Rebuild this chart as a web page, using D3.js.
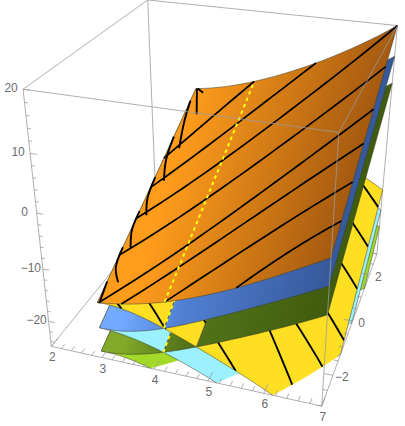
<!DOCTYPE html>
<html><head><meta charset="utf-8">
<script src="https://cdn.jsdelivr.net/npm/d3@7/dist/d3.min.js"></script>
<style>html,body{margin:0;padding:0;background:#fff}svg{display:block}text{font-family:"Liberation Sans",Arial,sans-serif;font-size:12px;fill:#6b6b6b}</style>
</head><body><svg id="chart" width="405" height="426"></svg>
<script>
// ---- data ----
const xTickValues=[2,3,4,5,6,7];
const yTickValues=[-2,0,2];
const zTickValues=[-20,-10,0,10,20];
const xDomain=[2,7], yDomain=[-3,3], zDomain=[-25,20];
const xGrid=[3,4,5,6,7];
const yGrid=[-3,0,3];
const orangeZ=[[-14.3,-12.4,-8.9,-4.2,1.2],[-5.15,-3.15,0.35,5,10.6],[4,6.1,9.6,14.2,20]];
const blueZ=[[-19.1,-17.4,-13.3,-8.5,-3.4],[-10.25,-8.25,-4.55,0.15,5.6],[-1.4,0.7,4.2,8.8,14.6]];
const greenZ=[[-23.7,-21.9,-18,-13.4,-8.3],[-15,-13,-9.35,-4.75,0.7],[-6.3,-4.2,-0.7,3.9,9.7]];
const yellowZ=[[-14.3,-15.9,-19.7,-24.2,-30.5],[-5.15,-7.2,-10.85,-15.2,-20.85],[4,1.6,-2,-6.2,-11.2]];
const cyanZ=[[-19.1,-20.7,-24.3,-29,-34],[-10.25,-12.2,-15.8,-20,-24.7],[-1.4,-3.5,-7.3,-11,-15.4]];
const limeZ=[[-23.7,-25.2,-29,-34,-41],[-15,-16.6,-20.5,-24.9,-30],[-6.3,-8,-12,-15.8,-19]];
const orangeColors=["#ff9c1c","#a55a10"], blueColors=["#72aaff","#507fd2","#35589a"], greenColors=["#82aa28","#54751a","#3f5c0e"];
const yellowColor="#ffdf22", cyanColor="#9bf1ff", limeColor="#a3da28";
// mesh lines on the top sheet (sheet coordinates)
const orangeMeshStartX=[3,3,3,3,3.02,3.45,4.25,5.5];
const orangeMeshStartY=[0.8,-0.05,-0.9,-1.85,-3,-3,-3,-3];
const orangeMeshEndX=[4.25,5.5,7,7,7,7,7,7];
const orangeMeshEndY=[3,3,3,1.75,0.55,-0.35,-1.3,-2.2];
const orangeMeshBow=[0.1,0.2,0.3,0.3,0.3,0.3,0.2,0.1];
// short arcs near the left edge: [x,y] triples
const orangeArcs=[[[3.02,3],[3.27,2.15]],[[3.04,3],[3.2,2.85]],[[3,2.6],[3.07,1.95],[3.22,1.1]],[[3,1.45],[3.06,0.75],[3.21,0.15]],[[3,0.25],[3.04,-0.35],[3.17,-0.8]],[[3,-0.7],[3.02,-1.2],[3.15,-1.65]],[[3,-1.65],[3.04,-2.15],[3.21,-2.5]],[[3,-2.5],[3.02,-2.77],[3.04,-3]]];
const yellowMeshStartX=[3.25,3.3,3.5,4.8,4.5,5,5.5,5.5,6.3];
const yellowMeshStartY=[-2.85,-2.2,-1.4,-0.6,-0.1,0.5,1.4,2.5,3];
const yellowMeshEndX=[3.45,4.25,5.5,6.43,6.85,7,7,7,7];
const yellowMeshEndY=[-3,-3,-3,-2.6,-1.85,-0.95,0.3,1.4,2.5];
const dashX=4.25;

// ---- scales & camera ----
const u=d3.scaleLinear().domain(xDomain).range([0,1]);
const v=d3.scaleLinear().domain(yDomain).range([0,1]);
const w=d3.scaleLinear().domain(zDomain).range([0,1]);
const cornerFit=[[0,0,1,23,89,1],[0,0,0,51,346,1],[1,0,0,322,406,1],[1,0,1,339,133,1.5],[0,1,1,148,0,1],[1,1,1,397,25,1],[1,1,0,377,254,0.15],[0,1,0,157,219,0.15]];
function solveCamera(rows){
  const n=11,A=d3.range(n).map(()=>new Array(n+1).fill(0));
  const add=(r,b,k)=>{for(let i=0;i<n;i++){for(let j=0;j<n;j++)A[i][j]+=k*r[i]*r[j];A[i][n]+=k*r[i]*b;}};
  rows.forEach(([a,b,c,sx,sy,k])=>{add([a,b,c,1,0,0,0,0,-sx*a,-sx*b,-sx*c],sx,k);add([0,0,0,0,a,b,c,1,-sy*a,-sy*b,-sy*c],sy,k);});
  for(let i=0;i<n;i++){let p=i;for(let k=i+1;k<n;k++)if(Math.abs(A[k][i])>Math.abs(A[p][i]))p=k;[A[i],A[p]]=[A[p],A[i]];
    for(let k=0;k<n;k++)if(k!==i){const f=A[k][i]/A[i][i];for(let j=i;j<=n;j++)A[k][j]-=f*A[i][j];}}
  return A.map((r,i)=>r[n]/r[i]);
}
const C=solveCamera(cornerFit);
function project(x,y,z){const a=u(x),b=v(y),c=w(z),d=C[8]*a+C[9]*b+C[10]*c+1;
  return [(C[0]*a+C[1]*b+C[2]*c+C[3])/d,(C[4]*a+C[5]*b+C[6]*c+C[7])/d];}

// ---- sheets: smooth polynomial through the values read at the grid nodes ----
function lagrange(xs,ys,x){let s=0;xs.forEach((xi,i)=>{let t=ys[i];xs.forEach((xj,j)=>{if(j!==i)t*=(x-xj)/(xi-xj);});s+=t;});return s;}
function makeSheet(name,rows,family,fill){
  const z=(x,y)=>lagrange(yGrid,rows.map(r=>lagrange(xGrid,r,x)),y);
  return {name,z,family,fill};
}
const sheets=[makeSheet("orange",orangeZ,"A","url(#g-orange)"),makeSheet("blue",blueZ,"A","url(#g-blue)"),makeSheet("green",greenZ,"A","url(#g-green)"),
  makeSheet("yellow",yellowZ,"B",yellowColor),makeSheet("cyan",cyanZ,"B",cyanColor),makeSheet("lime",limeZ,"B",limeColor)];
const [orange,blue,green,yellow,cyan,lime]=sheets;
const famA=[orange,blue,green],famB=[yellow,cyan,lime];
const xLo=xGrid[0],xHi=xGrid[4],ySamples=d3.range(0,49).map(i=>-3+i*0.125);
function root(f,lo,hi){let a=lo,b=hi,fa=f(a);for(let i=0;i<40;i++){const m=(a+b)/2,fm=f(m);if((fm<0)===(fa<0)){a=m;fa=fm;}else b=m;}return (a+b)/2;}
function crossing(A,B,y){const f=x=>A.z(x,y)-B.z(x,y);if(f(xLo)>=-1e-9)return xLo;if(f(xHi)<0)return xHi;return root(f,xLo,xHi);}
function floorX(S,y){const f=x=>S.z(x,y)-zDomain[0];if(f(xHi)>=0)return xHi;if(f(xLo)<0)return xLo;return root(f,xLo,xHi);}
const along=(a,b,y)=>d3.range(1,24).map(i=>[a+(b-a)*i/24,y]);
const pieces=[];
sheets.forEach(S=>{
  const others=S.family==="A"?famB:famA;
  const bounds=ySamples.map(y=>{
    const hi=floorX(S,y);
    const cs=others.map(T=>S.family==="A"?crossing(S,T,y):crossing(T,S,y)).map(c=>Math.min(c,hi));
    return [xLo,...cs.sort(d3.ascending),hi];
  });
  for(let k=0;k<4;k++){
    let bestI=0,best=-1;
    bounds.forEach((b,i)=>{if(b[k+1]-b[k]>best){best=b[k+1]-b[k];bestI=i;}});
    if(best<1e-3)continue;
    const ym=ySamples[bestI],xm=(bounds[bestI][k]+bounds[bestI][k+1])/2;
    const zm=S.z(xm,ym);
    const rank=sheets.filter(T=>T!==S&&T.z(xm,ym)<zm).length;
    const n=ySamples.length-1;
    const left=ySamples.map((y,i)=>[bounds[i][k],y]),right=ySamples.map((y,i)=>[bounds[i][k+1],y]).reverse();
    const outline=[...left,...along(bounds[n][k],bounds[n][k+1],3),...right,...along(bounds[0][k+1],bounds[0][k],-3)];
    pieces.push({sheet:S,rank,outline,id:S.name+k});
  }
});
const svg=d3.select("#chart"),defs=svg.append("defs");
[[orange,orangeColors,3.3],[blue,blueColors,3.0],[green,greenColors,3.0]].forEach(([S,cols,x0])=>{
  const p0=project(x0,0,S.z(x0,0)),p1=project(xHi,0,S.z(xHi,0));
  const a=project(xHi,-3,S.z(xHi,-3)),b=project(xHi,3,S.z(xHi,3));
  let nx=-(b[1]-a[1]),ny=b[0]-a[0];const L=Math.hypot(nx,ny);nx/=L;ny/=L;
  const d=(p1[0]-p0[0])*nx+(p1[1]-p0[1])*ny;
  const g=defs.append("linearGradient").attr("id","g-"+S.name).attr("gradientUnits","userSpaceOnUse")
    .attr("x1",p0[0]).attr("y1",p0[1]).attr("x2",p0[0]+nx*d).attr("y2",p0[1]+ny*d);
  cols.forEach((c,i)=>g.append("stop").attr("offset",cols.length===3?[0,0.3,1][i]:i).attr("stop-color",c));
});
const line=d3.line();
const onSheet=(S,x,y)=>project(x,y,S.z(x,y));
const boxColor="#9a9a9a";
const gBack=svg.append("g").attr("fill","none").attr("stroke",boxColor).attr("stroke-width",0.8);
const boxLine=(g,a,b)=>g.append("path").attr("d",line([project(...a),project(...b)]));
const [x0,x1]=xDomain,[y0,y1]=yDomain,[z0,z1]=zDomain;
[[[x0,y1,z1],[x1,y1,z1]],[[x0,y0,z1],[x0,y1,z1]],[[x0,y1,z1],[x0,y1,z0]],[[x1,y1,z1],[x1,y1,z0]],[[x0,y0,z0],[x0,y1,z0]],[[x0,y1,z0],[x1,y1,z0]]].forEach(e=>boxLine(gBack,...e));
[[x0,y0,z0,x1,y0,z0],[x1,y0,z0,x1,y1,z0]].forEach(e=>boxLine(gBack,e.slice(0,3),e.slice(3)));

const gSurf=svg.append("g");
function polyline(S,pts,n,bow=0){
  const [a,b]=pts;return d3.range(n+1).map(i=>{const t=i/n;return onSheet(S,a[0]+(b[0]-a[0])*t,a[1]+(b[1]-a[1])*t+bow*4*t*(1-t));});
}
const layers=[...pieces.map(p=>({rank:p.rank,piece:p}))];
[[blue,yellow],[green,cyan]].forEach(([A,B])=>{
  const xm=crossing(A,B,0),zm=A.z(xm,0);
  const r=sheets.filter(T=>T!==A&&T!==B&&T.z(xm,0)<zm).length;
  layers.push({rank:r+1.5,dash:[A,B]});
});
layers.push({rank:99,top:true});
layers.sort((a,b)=>a.rank-b.rank);
layers.forEach(l=>{
  if(l.piece){
    const p=l.piece,S=p.sheet,pts=p.outline.map(([x,y])=>onSheet(S,x,y));
    gSurf.append("path").attr("d",line(pts)+"Z").attr("fill",S.fill).attr("stroke","none");
    const ctx=d3.path();
    p.outline.forEach(([x,y],i)=>{const [nx,ny]=p.outline[(i+1)%p.outline.length];
      const low=S.z(x,y)<=zDomain[0]+0.01&&S.z(nx,ny)<=zDomain[0]+0.01;
      if(low)return;const a=onSheet(S,x,y),b=onSheet(S,nx,ny);ctx.moveTo(a[0],a[1]);ctx.lineTo(b[0],b[1]);});
    gSurf.append("path").attr("d",ctx.toString()).attr("fill","none").attr("stroke","#3a3a2a").attr("stroke-width",0.6).attr("stroke-opacity",0.85);
    if(S===yellow){
      const id="clip-"+p.id;
      defs.append("clipPath").attr("id",id).append("path").attr("d",line(pts)+"Z");
      const g=gSurf.append("g").attr("clip-path",`url(#${id})`);
      yellowMeshStartX.forEach((xs,i)=>g.append("path").attr("d",line(polyline(yellow,[[xs,yellowMeshStartY[i]],[yellowMeshEndX[i],yellowMeshEndY[i]]],12)))
        .attr("fill","none").attr("stroke","#000").attr("stroke-width",1.9));
    }
  }
  if(l.dash){
    const [A,B]=l.dash;
    const pts=ySamples.map(y=>{const x=crossing(A,B,y);return onSheet(A,x,y);});
    gSurf.append("path").attr("d",line(pts)).attr("fill","none").attr("stroke","#ffff14").attr("stroke-width",2).attr("stroke-dasharray","3.5 3.5");
  }
  if(l.top){
    orangeMeshStartX.forEach((xs,i)=>gSurf.append("path").attr("d",line(polyline(orange,[[xs,orangeMeshStartY[i]],[orangeMeshEndX[i],orangeMeshEndY[i]]],24,orangeMeshBow[i])))
      .attr("fill","none").attr("stroke","#000").attr("stroke-width",1.7));
    const arc=d3.line().curve(d3.curveCatmullRom);
    orangeArcs.forEach(a=>gSurf.append("path").attr("d",arc(a.map(([x,y])=>onSheet(orange,x,y))))
      .attr("fill","none").attr("stroke","#000").attr("stroke-width",1.9));
    gSurf.append("path").attr("d",line(polyline(orange,[[dashX,-3],[dashX,3]],24))).attr("fill","none")
      .attr("stroke","#ffff14").attr("stroke-width",2).attr("stroke-dasharray","3.5 3.5");
  }
});
const gFront=svg.append("g").attr("fill","none").attr("stroke",boxColor).attr("stroke-width",0.8);
[[[x0,y0,z1],[x1,y0,z1]],[[x1,y0,z1],[x1,y0,z0]],[[x1,y0,z1],[x1,y1,z1]],[[x0,y0,z1],[x0,y0,z0]]].forEach(e=>boxLine(gFront,...e));
const xMinor=d3.range(2,7.001,0.2),yMinor=d3.range(-3,3.001,0.5),zMinor=d3.range(-24,20.001,2);
xMinor.forEach(x=>{const major=Math.abs(x-Math.round(x))<1e-6;boxLine(gFront,[x,y0,z0],[x,y0+(major?0.3:0.16),z0]);});
yMinor.forEach(y=>{const major=yTickValues.includes(y);boxLine(gFront,[x1,y,z0],[x1-(major?0.16:0.08),y,z0]);});
zMinor.forEach(z=>{const major=z%10===0;boxLine(gFront,[x0,y0,z],[x0+(major?0.12:0.06),y0,z]);});
const fmt=n=>String(n).replace("-","\u2212");
const gText=svg.append("g").attr("text-anchor","middle");
xTickValues.forEach(x=>{const p=project(x,y0,z0);gText.append("text").attr("x",p[0]+1).attr("y",p[1]+15).text(fmt(x));});
yTickValues.forEach(y=>{const p=project(x1,y,z0);gText.append("text").attr("x",p[0]+9).attr("y",p[1]+6).text(fmt(y));});
zTickValues.forEach(z=>{const p=project(x0,y0,z);gText.append("text").attr("x",p[0]-12).attr("y",p[1]+3).text(fmt(z));});
</script></body></html>
